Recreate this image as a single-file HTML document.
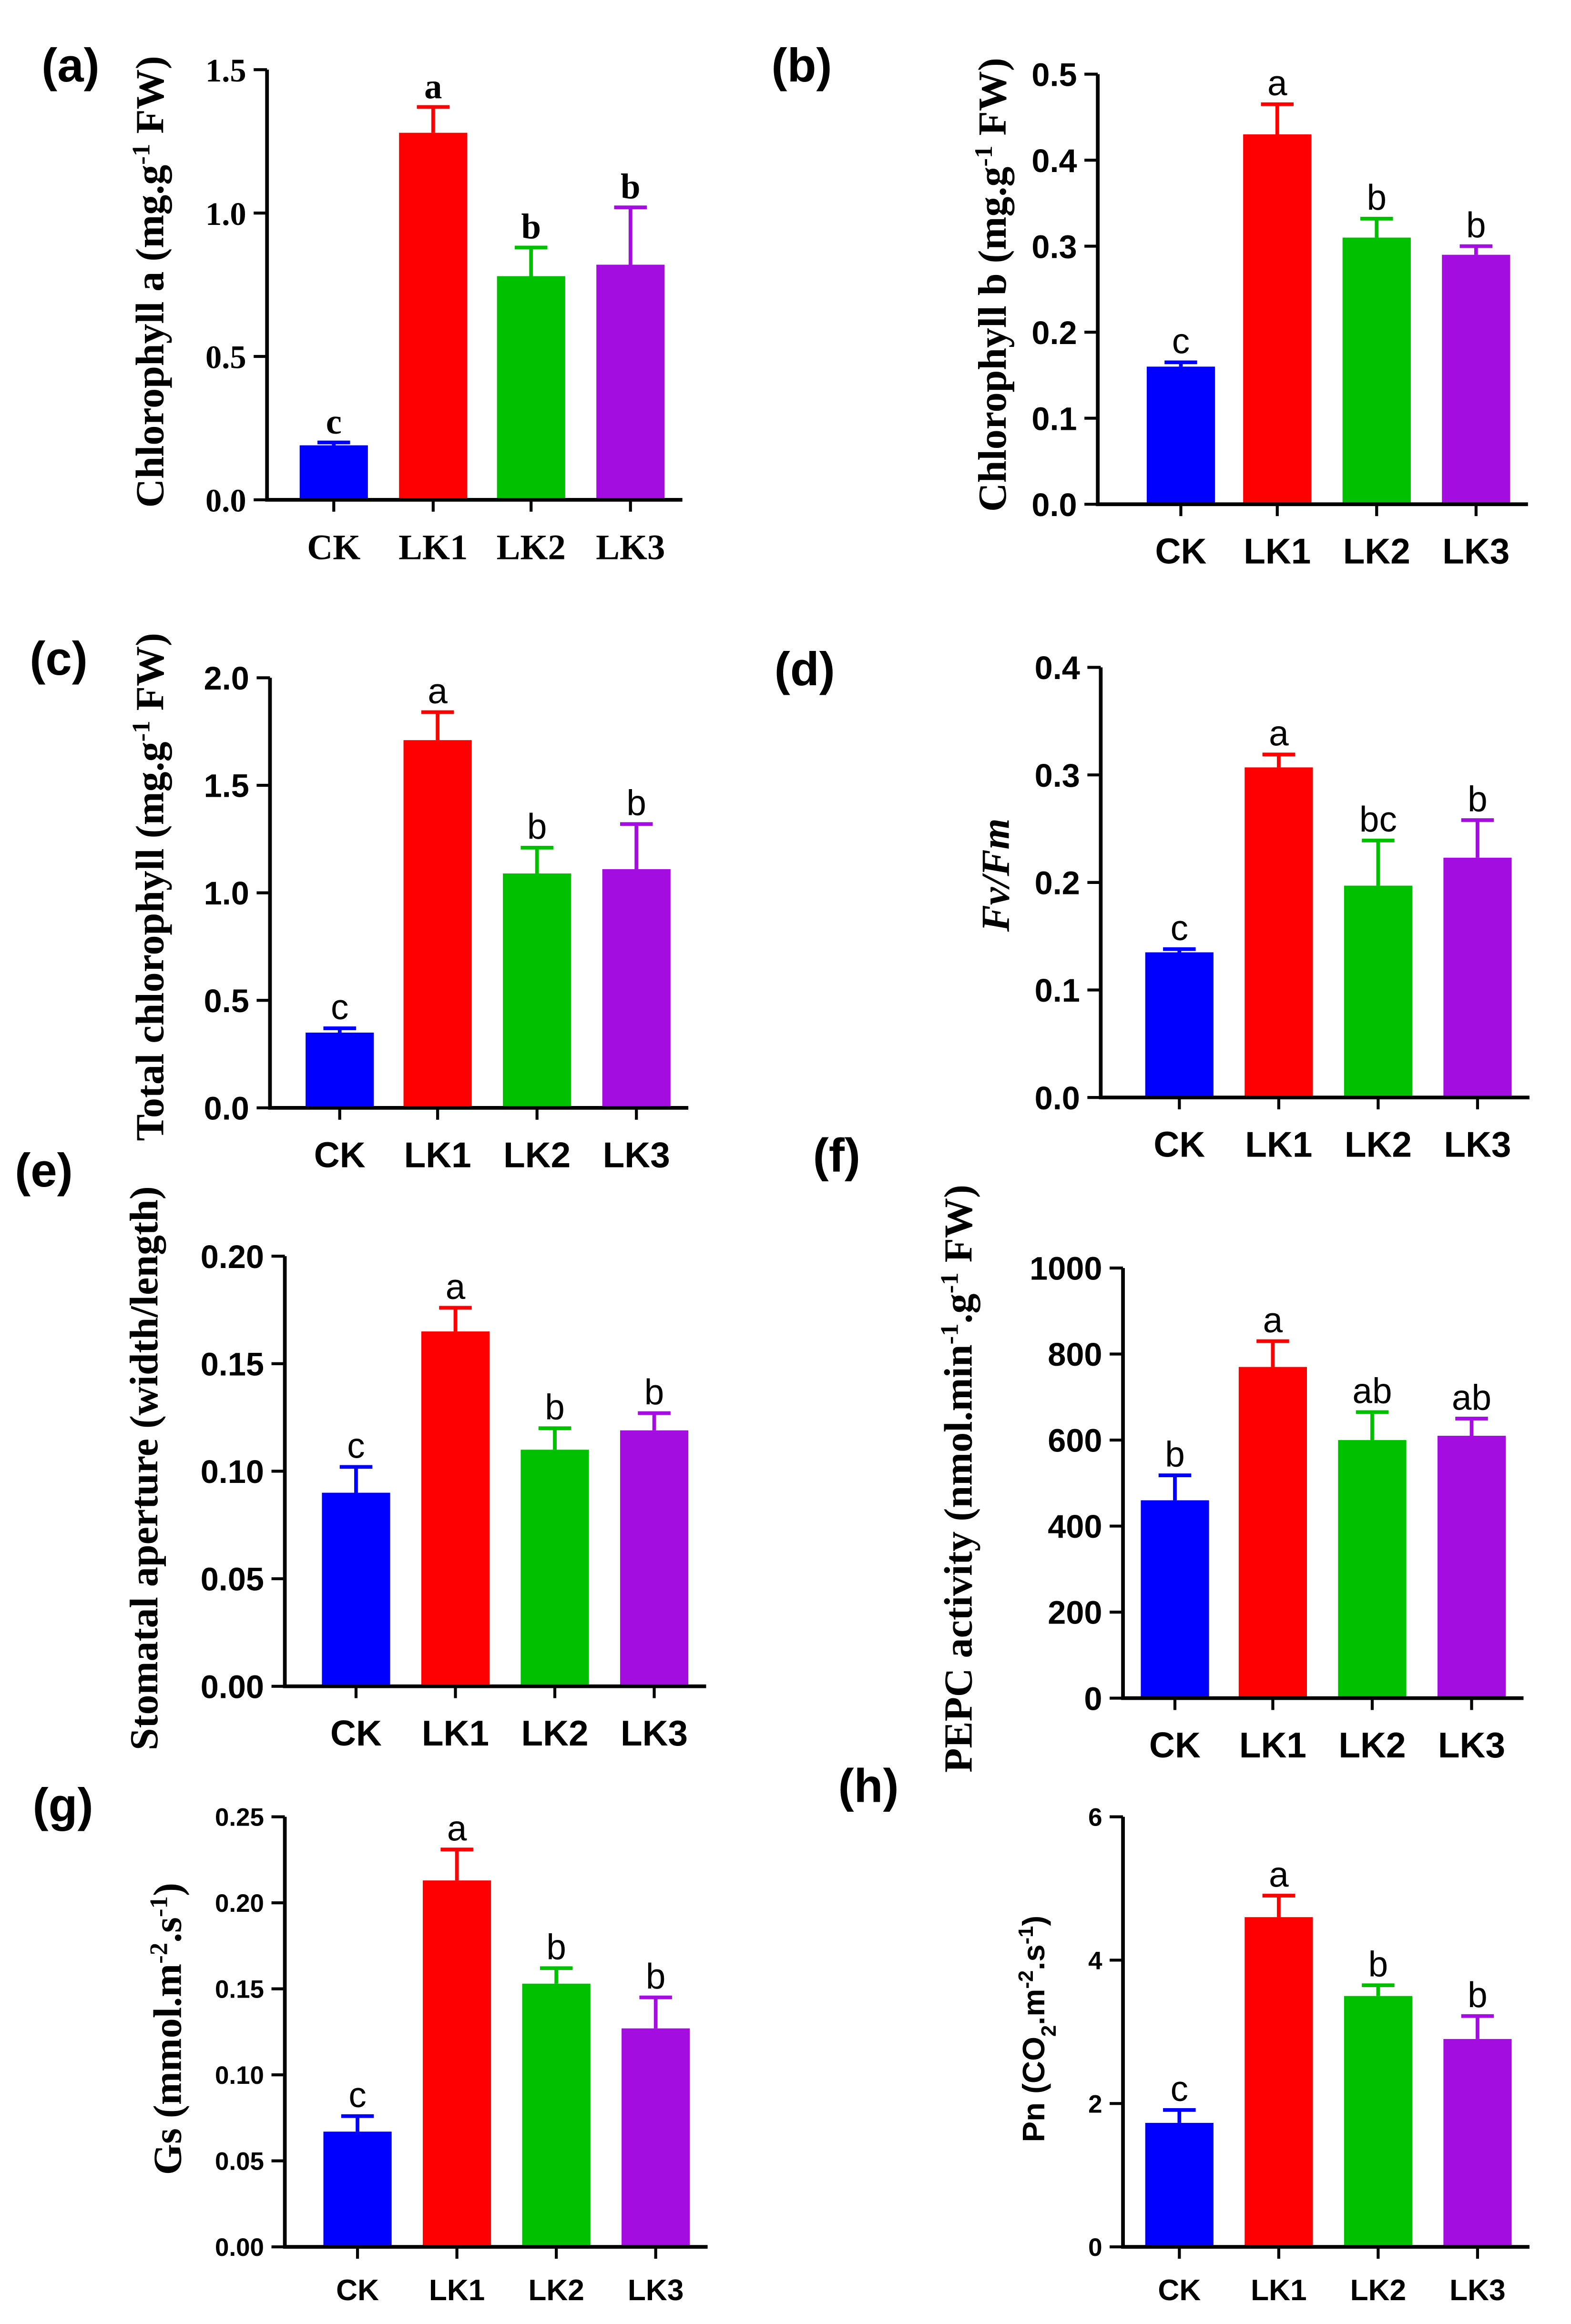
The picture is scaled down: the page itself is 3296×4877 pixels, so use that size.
<!DOCTYPE html>
<html><head><meta charset="utf-8"><style>
html,body{margin:0;padding:0;background:#fff;}
svg{display:block;}
</style></head><body>
<svg id="fig" width="3296" height="4877" viewBox="0 0 1059 1567" preserveAspectRatio="none" xmlns="http://www.w3.org/2000/svg"></svg>
<script>
const categories = ["CK","LK1","LK2","LK3"];
const colors = ["#0000ff","#ff0000","#00c000","#a30de0"];

const aValues = [0.19, 1.28, 0.78, 0.82];
const aErrors = [0.01, 0.09, 0.10, 0.20];
const aLetters = ["c","a","b","b"];
const aTicks = ["0.0","0.5","1.0","1.5"];

const bValues = [0.16, 0.43, 0.31, 0.29];
const bErrors = [0.005, 0.035, 0.022, 0.01];
const bLetters = ["c","a","b","b"];
const bTicks = ["0.0","0.1","0.2","0.3","0.4","0.5"];

const cValues = [0.35, 1.71, 1.09, 1.11];
const cErrors = [0.02, 0.13, 0.12, 0.21];
const cLetters = ["c","a","b","b"];
const cTicks = ["0.0","0.5","1.0","1.5","2.0"];

const dValues = [0.135, 0.307, 0.197, 0.223];
const dErrors = [0.003, 0.012, 0.042, 0.035];
const dLetters = ["c","a","bc","b"];
const dTicks = ["0.0","0.1","0.2","0.3","0.4"];

const eValues = [0.09, 0.165, 0.11, 0.119];
const eErrors = [0.012, 0.011, 0.01, 0.008];
const eLetters = ["c","a","b","b"];
const eTicks = ["0.00","0.05","0.10","0.15","0.20"];

const fValues = [460, 770, 600, 610];
const fErrors = [58, 60, 65, 40];
const fLetters = ["b","a","ab","ab"];
const fTicks = ["0","200","400","600","800","1000"];

const gValues = [0.067, 0.213, 0.153, 0.127];
const gErrors = [0.009, 0.018, 0.009, 0.018];
const gLetters = ["c","a","b","b"];
const gTicks = ["0.00","0.05","0.10","0.15","0.20","0.25"];

const hValues = [1.73, 4.6, 3.5, 2.9];
const hErrors = [0.18, 0.3, 0.15, 0.32];
const hLetters = ["c","a","b","b"];
const hTicks = ["0","2","4","6"];

const NS="http://www.w3.org/2000/svg";
const svg=document.getElementById('fig');
const SANS='"Liberation Sans", Arial, sans-serif';
const SERIF='"Liberation Serif", "Times New Roman", serif';
function mk(tag,attrs,parent){const e=document.createElementNS(NS,tag);for(const k in attrs)e.setAttribute(k,attrs[k]);(parent||svg).appendChild(e);return e;}

const panels=[
 {id:'a',vals:aValues,errs:aErrors,lets:aLetters,ticks:aTicks,ax:180,top:47,bot:337,xs:[225,292,358,425],font:SERIF,letFont:SERIF,letW:'bold',tfs:22,xfs:24,lx:28,ly:55,
  title:'Chlorophyll a (mg.g<tspan baseline-shift="super" font-size="17">-1</tspan> FW)',tx:110,ty:190,tfont:SERIF},
 {id:'b',vals:bValues,errs:bErrors,lets:bLetters,ticks:bTicks,ax:740,top:50,bot:340,xs:[796,861,928,995],font:SANS,letFont:SANS,letW:'normal',tfs:22,xfs:24,lx:520,ly:55,
  title:'Chlorophyll b (mg.g<tspan baseline-shift="super" font-size="17">-1</tspan> FW)',tx:678,ty:192,tfont:SERIF},
 {id:'c',vals:cValues,errs:cErrors,lets:cLetters,ticks:cTicks,ax:182,top:457,bot:747,xs:[229,295,362,429],font:SANS,letFont:SANS,letW:'normal',tfs:22,xfs:24,lx:20,ly:455,
  title:'Total chlorophyll (mg.g<tspan baseline-shift="super" font-size="17">-1</tspan> FW)',tx:110,ty:598,tfont:SERIF},
 {id:'d',vals:dValues,errs:dErrors,lets:dLetters,ticks:dTicks,ax:742,top:450,bot:740,xs:[795,862,929,996],font:SANS,letFont:SANS,letW:'normal',tfs:22,xfs:24,lx:522,ly:462,
  title:'<tspan font-style="italic">Fv/Fm</tspan>',tx:680,ty:590,tfont:SERIF},
 {id:'e',vals:eValues,errs:eErrors,lets:eLetters,ticks:eTicks,ax:192,top:847,bot:1137,xs:[240,307,374,441],font:SANS,letFont:SANS,letW:'normal',tfs:22,xfs:24,lx:10,ly:800,
  title:'Stomatal aperture (width/length)',tx:106,ty:990,tfont:SERIF},
 {id:'f',vals:fValues,errs:fErrors,lets:fLetters,ticks:fTicks,ax:757,top:855,bot:1145,xs:[792,858,925,992],font:SANS,letFont:SANS,letW:'normal',tfs:22,xfs:24,lx:548,ly:790,
  title:'PEPC activity (nmol.min<tspan baseline-shift="super" font-size="17">-1</tspan>.g<tspan baseline-shift="super" font-size="17">-1</tspan> FW)',tx:655,ty:997,tfont:SERIF},
 {id:'g',vals:gValues,errs:gErrors,lets:gLetters,ticks:gTicks,ax:192,top:1225,bot:1515,xs:[241,308,375,442],font:SANS,letFont:SANS,letW:'normal',tfs:17,xfs:20,lx:22,ly:1228,
  title:'Gs (mmol.m<tspan baseline-shift="super" font-size="17">-2</tspan>.s<tspan baseline-shift="super" font-size="17">-1</tspan>)',tx:122,ty:1368,tfont:SERIF},
 {id:'h',vals:hValues,errs:hErrors,lets:hLetters,ticks:hTicks,ax:757,top:1225,bot:1515,xs:[795,862,929,996],font:SANS,letFont:SANS,letW:'normal',tfs:17,xfs:20,lx:565,ly:1215,
  title:'Pn (CO<tspan baseline-shift="sub" font-size="14">2</tspan>.m<tspan baseline-shift="super" font-size="14">-2</tspan>.s<tspan baseline-shift="super" font-size="14">-1</tspan>)',tx:704,ty:1368,tfont:SANS,tsize:21},
];

panels.forEach(p=>{
  const g=mk('g',{});
  
  
  const maxV=parseFloat(p.ticks[p.ticks.length-1]);
  const y=v=>p.bot-(v/maxV)*(p.bot-p.top);
  const bw=46;
  const xEnd=p.xs[3]+bw/2+12;
  const lab=mk('text',{x:p.lx,y:p.ly,'font-family':SANS,'font-weight':'bold','font-size':32},g);
  lab.textContent='('+p.id+')';
  
  
  p.vals.forEach((v,i)=>{
    const cx=p.xs[i];
    const r=mk('rect',{x:cx-bw/2,y:y(v),width:bw,height:p.bot-y(v),fill:colors[i]},g);
    
    
    const te=y(v+p.errs[i]);
    const e=mk('path',{d:`M${cx},${y(v)} V${te} M${cx-11},${te} H${cx+11}`,stroke:colors[i],'stroke-width':2.5,fill:'none'},g);
    
    
    const lt=mk('text',{x:cx,y:te-6,'text-anchor':'middle','font-family':p.letFont,'font-weight':p.letW,'font-size':24},g);
    lt.textContent=p.lets[i];
    
    
    const xl=mk('text',{x:cx,y:p.bot+(p.xfs+16),'text-anchor':'middle','font-family':p.font,'font-weight':'bold','font-size':p.xfs},g);
    xl.textContent=categories[i];
    
    
    mk('line',{x1:cx,y1:p.bot,x2:cx,y2:p.bot+8,stroke:'#000','stroke-width':2},g);
  });
  const axes=mk('path',{d:`M${p.ax},${p.top} V${p.bot} H${xEnd}`,stroke:'#000','stroke-width':2.5,fill:'none'},g);
  
  
  p.ticks.forEach(t=>{
    const ty=y(parseFloat(t));
    mk('line',{x1:p.ax-9,y1:ty,x2:p.ax,y2:ty,stroke:'#000','stroke-width':2},g);
    const tl=mk('text',{x:p.ax-14,y:ty+p.tfs*0.36,'text-anchor':'end','font-family':p.font,'font-weight':'bold','font-size':p.tfs},g);
    tl.textContent=t;
    
    
  });
  const tt=mk('text',{x:0,y:0,'text-anchor':'middle','font-family':p.tfont,'font-weight':'bold','font-size':p.tsize||27,transform:`translate(${p.tx},${p.ty}) rotate(-90)`},g);
  tt.innerHTML=p.title;
  
  
});
</script>
</body></html>
